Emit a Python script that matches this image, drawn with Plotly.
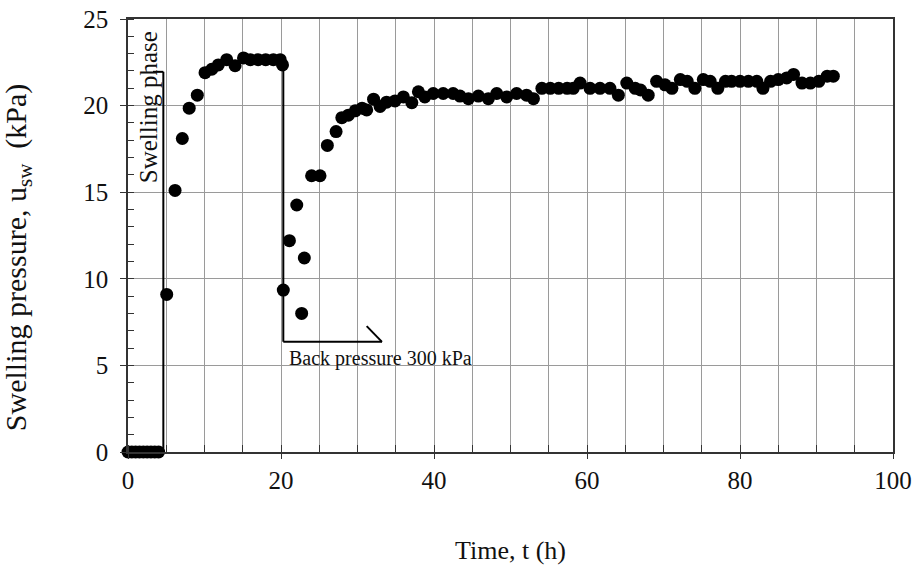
import plotly.graph_objects as go

# Elapsed time (h) and measured swelling pressure (kPa)
time_h = [
    0, 0.5, 1, 1.5, 2, 2.5, 3, 3.5, 4,
    5.06, 6.15, 7.1, 8.0, 9.06, 10.07, 10.95, 11.8, 12.9, 14.0, 15.1,
    16.0, 17.0, 18.0, 19.0, 19.9, 20.2,
    20.3, 21.1, 22.06, 22.7, 23.05, 24.0, 25.1, 26.06, 27.2, 27.95,
    28.8, 29.7, 30.6, 31.2, 32.1, 32.95, 33.8, 34.9, 36.0, 37.1,
    37.96, 38.8, 39.9, 41.2, 42.5, 43.4, 44.5, 45.8, 47.1, 48.2,
    49.5, 50.8, 52.1, 53.0, 54.1, 55.2, 56.3, 57.4, 58.2, 59.1,
    60.4, 61.7, 63.0, 64.1, 65.2, 66.3, 67.0, 68.0, 69.1, 70.2,
    71.1, 72.2, 73.1, 74.1, 75.2, 76.1, 77.1, 78.1, 78.9, 80.0,
    81.1, 82.2, 83.0, 84.0, 85.0, 86.1, 87.0, 88.1, 89.2, 90.3,
    91.4, 92.2,
]
pressure_kpa = [
    0, 0, 0, 0, 0, 0, 0, 0, 0,
    9.1, 15.1, 18.1, 19.85, 20.6, 21.9, 22.1, 22.35, 22.65, 22.3, 22.75,
    22.65, 22.65, 22.65, 22.65, 22.65, 22.35,
    9.35, 12.2, 14.26, 8.0, 11.2, 15.95, 15.95, 17.7, 18.5, 19.3,
    19.45, 19.7, 19.85, 19.75, 20.37, 19.95, 20.2, 20.27, 20.5, 20.17,
    20.8, 20.5, 20.7, 20.7, 20.7, 20.55, 20.4, 20.55, 20.4, 20.7,
    20.5, 20.7, 20.6, 20.4, 21.0, 21.0, 21.0, 21.0, 21.0, 21.3,
    21.0, 21.0, 21.0, 20.6, 21.3, 21.0, 20.9, 20.6, 21.4, 21.2,
    21.0, 21.5, 21.4, 21.0, 21.5, 21.4, 21.0, 21.4, 21.4, 21.4,
    21.4, 21.4, 21.0, 21.4, 21.5, 21.6, 21.8, 21.3, 21.3, 21.4,
    21.7, 21.7,
]

x_ticks = [0, 20, 40, 60, 80, 100]
y_ticks = [0, 5, 10, 15, 20, 25]

SERIF = "Liberation Serif"
TEXT = "#111111"
GRID = "#9a9a9a"
AXIS = "#333333"

fig = go.Figure()
fig.add_trace(go.Scatter(
    x=time_h, y=pressure_kpa, mode="markers", cliponaxis=False,
    marker=dict(symbol="circle", size=13, color="black", line=dict(width=0)),
    showlegend=False,
))

# Bracket marking the swelling phase
line_style = dict(color="black", width=2)
fig.add_shape(type="line", xref="x", yref="y", x0=3.27, y0=21.95, x1=4.62, y1=21.95, line=line_style)
fig.add_shape(type="line", xref="x", yref="y", x0=4.62, y0=21.95, x1=4.62, y1=0, line=line_style)

# Bracket marking the application of back pressure
fig.add_shape(type="line", xref="x", yref="y", x0=20.3, y0=22.5, x1=20.3, y1=6.36, line=line_style)
fig.add_shape(type="line", xref="x", yref="y", x0=20.3, y0=6.36, x1=33.2, y1=6.36, line=line_style)
fig.add_shape(type="line", xref="x", yref="y", x0=33.2, y0=6.36, x1=31.2, y1=7.27, line=line_style)

fig.add_annotation(
    x=2.6, y=19.9, xref="x", yref="y", text="Swelling phase", textangle=-90,
    showarrow=False, font=dict(family=SERIF, size=25, color=TEXT),
)
fig.add_annotation(
    x=20.75, y=5.42, xref="x", yref="y", text="Back pressure 300 kPa",
    xanchor="left", showarrow=False, font=dict(family=SERIF, size=20, color=TEXT),
)

# Vertical axis title
fig.add_annotation(
    x=-0.1438, y=0.45, xref="paper", yref="paper", xanchor="center", yanchor="middle",
    text="Swelling pressure, u<sub>sw</sub>  (kPa)", textangle=-90, showarrow=False,
    font=dict(family=SERIF, size=30, color=TEXT),
)

fig.update_layout(
    width=918, height=568,
    margin=dict(l=128, r=25, t=19, b=116, autoexpand=False),
    paper_bgcolor="white", plot_bgcolor="white",
    font=dict(family=SERIF, size=25, color=TEXT),
    xaxis=dict(
        range=[0, 100], tickvals=x_ticks, ticktext=[str(v) for v in x_ticks],
        tickfont=dict(family=SERIF, size=25, color=TEXT),
        ticks="outside", ticklen=5, tickcolor=AXIS, tickwidth=1,
        showgrid=True, gridcolor=GRID, gridwidth=1,
        minor=dict(dtick=5, tick0=0, ticks="inside", ticklen=7, tickcolor=AXIS,
                   showgrid=True, gridcolor=GRID, gridwidth=1),
        showline=True, linecolor=AXIS, linewidth=1.5, mirror=True,
        zeroline=False, ticklabelstandoff=0, automargin=False,
        title=dict(text="Time, t (h)", standoff=48,
                   font=dict(family=SERIF, size=26, color=TEXT)),
    ),
    yaxis=dict(
        range=[0, 25], tickvals=y_ticks, ticktext=[str(v) for v in y_ticks],
        tickfont=dict(family=SERIF, size=25, color=TEXT),
        ticks="outside", ticklen=6, tickcolor=AXIS, tickwidth=1,
        showgrid=True, gridcolor=GRID, gridwidth=1,
        minor=dict(dtick=1, tick0=0, ticks="inside", ticklen=6, tickcolor=AXIS,
                   showgrid=False),
        showline=True, linecolor=AXIS, linewidth=1.5, mirror=True,
        zeroline=False, ticklabelstandoff=7, automargin=False,
    ),
)

fig.write_html("out.html")
